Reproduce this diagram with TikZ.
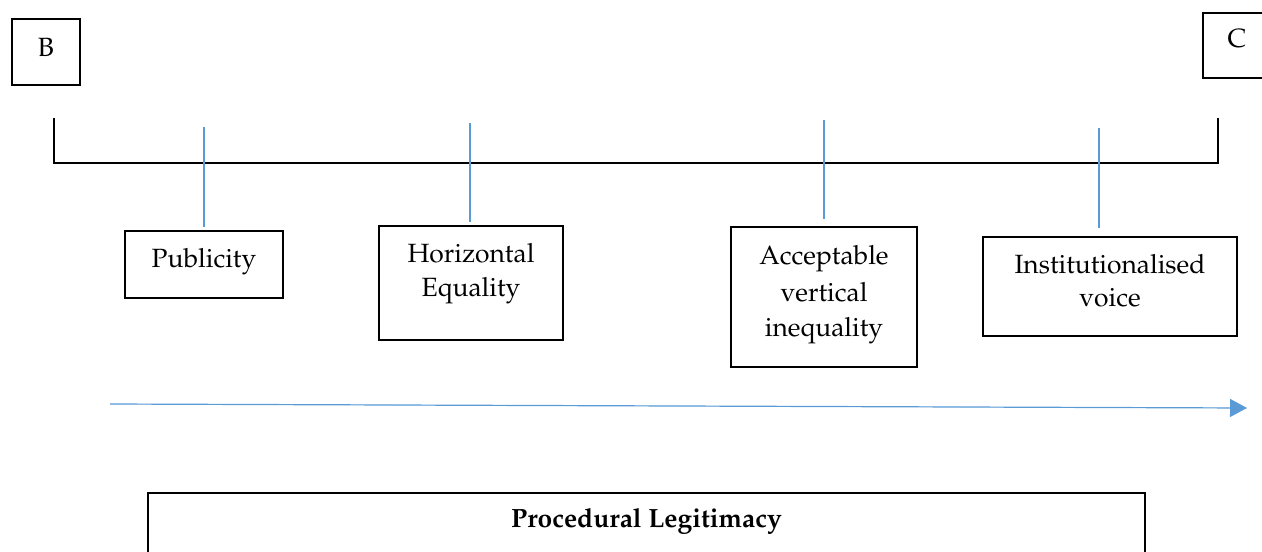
\documentclass[tikz,border=0pt]{standalone}
\usepackage[T1]{fontenc}
\usepackage{mathpazo}
\usetikzlibrary{arrows.meta}
\definecolor{lineblue}{RGB}{91,155,213}
\tikzset{
  box/.style={draw=black, line width=1pt, inner sep=0pt},
  lbl/.style={align=center, inner sep=0pt, font=\fontsize{13.2}{17}\selectfont},
  bracket/.style={draw=black, line width=1pt},
  tick/.style={draw=lineblue, line width=0.6pt},
  flow/.style={draw=lineblue, line width=0.6pt, -{Triangle[length=8.5pt,width=9pt]}, fill=lineblue}
}
\begin{document}
\begin{tikzpicture}[x=0.5pt,y=-0.5pt]
\useasboundingbox (0,0) rectangle (1262,551);
\clip (0,0) rectangle (1262,551);
% B and C
\node[box, minimum width=34pt, minimum height=33pt] (B) at (46,52) {};
\node[lbl, anchor=base] at (46,57) {B};
\node[box, minimum width=32pt, minimum height=32.5pt, anchor=north west] (C) at (1202,12) {};
\node[lbl, anchor=base] at (1237,48) {C};
% bracket
\coordinate (bl) at (54,118);
\coordinate (bld) at (54,163);
\coordinate (brd) at (1218,163);
\coordinate (br) at (1218,118);
\draw[bracket] (bl) -- (bld) -- (brd) -- (br);
% boxes
\node[box, minimum width=79pt, minimum height=33.5pt] (pub) at (204,264.5) {};
\node[lbl, anchor=base] at (204,267) {Publicity};
\node[box, minimum width=92pt, minimum height=57pt] (he) at (471,283) {};
\node[lbl, anchor=base] at (471,262) {Horizontal};
\node[lbl, anchor=base] at (471,296) {Equality};
\node[box, minimum width=93pt, minimum height=70pt] (acc) at (824,297) {};
\node[lbl, anchor=base] at (824,264) {Acceptable};
\node[lbl, anchor=base] at (824,301) {vertical};
\node[lbl, anchor=base] at (824,336) {inequality};
\node[box, minimum width=127pt, minimum height=49.5pt] (inst) at (1110,286.5) {};
\node[lbl, anchor=base] at (1110,273) {Institutionalised};
\node[lbl, anchor=base] at (1110,306) {voice};
% ticks
\coordinate (t1) at (204,127);
\coordinate (t2) at (470,123);
\coordinate (t3) at (824,120);
\coordinate (t4) at (1099,128);
\draw[tick] (t1) -- ([yshift=1.5pt]pub.north);
\draw[tick] (t2) -- ([yshift=1.5pt]he.north -| t2);
\draw[tick] (t3) -- ([yshift=3.5pt]acc.north);
\draw[tick] (t4) -- ([yshift=4pt]inst.north -| t4);
% flow arrow
\coordinate (a0) at (110,404);
\coordinate (a1) at (1247,408);
\draw[flow] (a0) -- (a1);
% bottom box
\node[box, minimum width=498.5pt, minimum height=60pt, anchor=north] (pl) at (646.5,492) {};
\node[lbl, anchor=base, font=\fontsize{13.2}{17}\selectfont\bfseries] at (646.5,527) {Procedural Legitimacy};
\end{tikzpicture}
\end{document}
